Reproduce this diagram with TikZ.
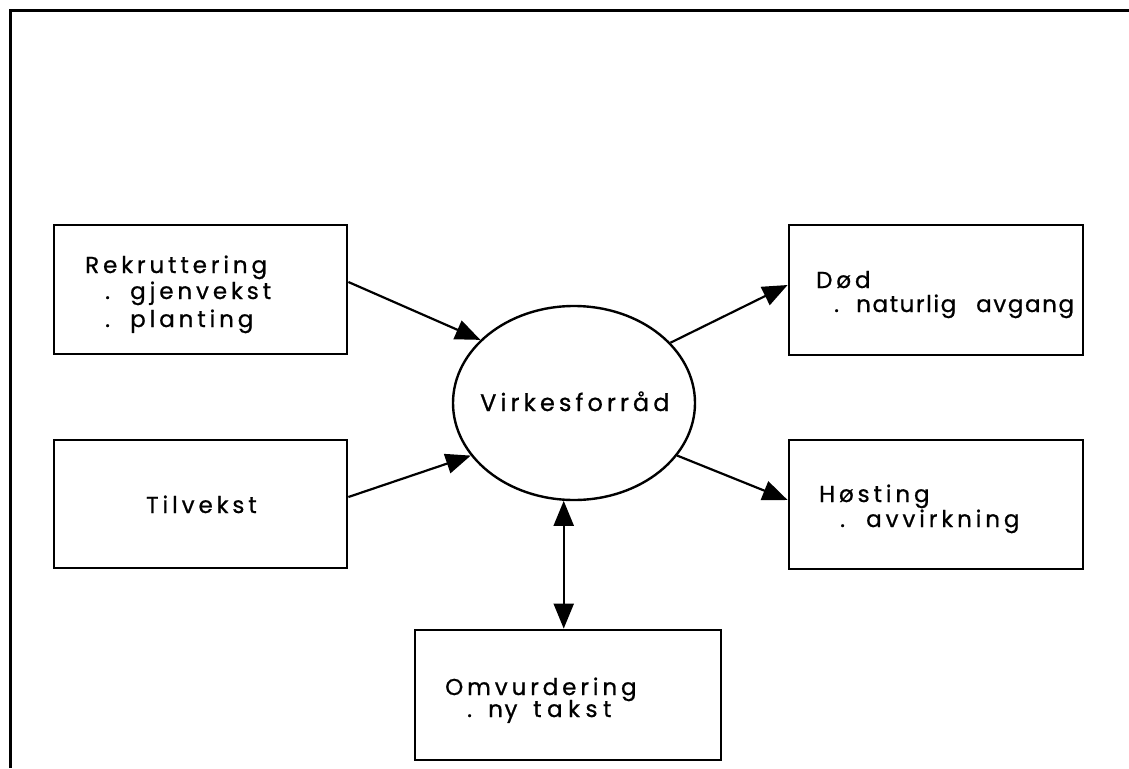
\documentclass[tikz,border=0pt]{standalone}
\usepackage{fontspec}
\setmainfont{Poppins}[LetterSpace=17,FakeBold=0.8]
\usetikzlibrary{arrows.meta,shapes.geometric}
\begin{document}
\begin{tikzpicture}[x=1pt,y=-1pt,
  box/.style={draw,line width=2.8pt,rectangle,inner sep=0pt},
  txt/.style={anchor=base west,inner sep=0pt,font=\fontsize{23}{23}\selectfont},
  tight/.style={font=\fontsize{23}{23}\selectfont\addfontfeature{LetterSpace=7}},
  loose/.style={font=\fontsize{23}{23}\selectfont\addfontfeature{LetterSpace=24}},
  arr/.style={line width=2.2pt,-{Triangle[length=25pt,width=20pt]}},
  darr/.style={line width=2.2pt,{Triangle[length=25pt,width=20pt]}-{Triangle[length=25pt,width=20pt]}}]
\useasboundingbox (0,0) rectangle (1129,768);
\draw[line width=3pt] (10,768) -- (10,11) -- (1129,11);
% boxes
\node[box,minimum width=293pt,minimum height=129pt] (rek) at (200.5,289.5) {};
\node[box,minimum width=293pt,minimum height=128pt] (til) at (200.5,504) {};
\node[box,minimum width=294pt,minimum height=130pt] (dod) at (936,290) {};
\node[box,minimum width=294pt,minimum height=129pt] (hos) at (936,504.5) {};
\node[box,minimum width=306pt,minimum height=130pt] (omv) at (568,695) {};
\node[draw,ellipse,line width=2.4pt,minimum width=242pt,minimum height=194pt,inner sep=0pt] (virk) at (574,403) {};
% texts
\node[txt,font=\fontsize{24}{24}\selectfont] (virkA) at (480,411) {Virkesforråd};
\node[txt] (rekA) at (85,273) {Rekruttering};
\node[txt] (rekB1) at (105,299) {.};
\node[txt] (rekB) at (130,299) {gjenvekst};
\node[txt] (rekC1) at (105,327) {.};
\node[txt] (rekC) at (130,327) {planting};
\node[txt] (tilA) at (146,513) {Tilvekst};
\node[txt] (dodA) at (816,288) {Død};
\node[txt] (dodB1) at (834,312) {.};
\node[txt,tight] (dodB) at (856,312) {naturlig};
\node[txt,tight] (dodC) at (976,312) {avgang};
\node[txt] (hosA) at (819,502) {Høsting};
\node[txt] (hosB1) at (840,527) {.};
\node[txt] (hosB) at (866,527) {avvirkning};
\node[txt] (omvA) at (445,695) {Omvurdering};
\node[txt] (omvB1) at (467,717) {.};
\node[txt,tight] (omvB) at (488,717) {ny};
\node[txt,loose] (omvC) at (533,717) {takst};
% arrows
\draw[arr] ([yshift=7.5pt]rek.east) -- (virk.146);
\draw[arr] ([yshift=7pt]til.east) -- (virk.207);
\draw[arr] (virk.32) -- ([yshift=5pt]dod.west);
\draw[arr] (virk.333) -- ([yshift=4.5pt]hos.west);
\draw[darr] (virk.264) -- (virk.264 |- omv.north);
\end{tikzpicture}
\end{document}
